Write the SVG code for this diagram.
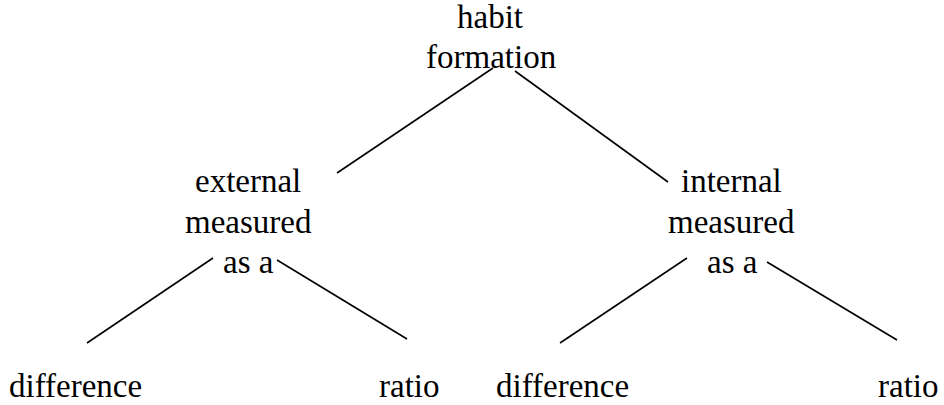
<svg xmlns="http://www.w3.org/2000/svg" width="944" height="405" viewBox="0 0 944 405">
<rect width="944" height="405" fill="#fff"/>
<g id="root"><text x="457" y="28" font-size="33" font-family="Liberation Serif">habit</text><text x="426" y="68" font-size="33" font-family="Liberation Serif">formation</text></g>
<g id="external"><text x="195" y="192" font-size="33" font-family="Liberation Serif">external</text><text x="185" y="233" font-size="33" font-family="Liberation Serif">measured</text><text x="223" y="273" font-size="33" font-family="Liberation Serif">as a</text></g>
<g id="internal"><text x="681" y="192" font-size="33" font-family="Liberation Serif">internal</text><text x="668" y="233" font-size="33" font-family="Liberation Serif">measured</text><text x="707" y="273" font-size="33" font-family="Liberation Serif">as a</text></g>
<g id="ext-difference"><text x="9" y="397" font-size="33" font-family="Liberation Serif">difference</text></g>
<g id="ext-ratio"><text x="379" y="397" font-size="33" font-family="Liberation Serif">ratio</text></g>
<g id="int-difference"><text x="496" y="397" font-size="33" font-family="Liberation Serif">difference</text></g>
<g id="int-ratio"><text x="878" y="397" font-size="33" font-family="Liberation Serif">ratio</text></g>
<g id="connectors" stroke="#000" stroke-width="1.6">
<line x1="493" y1="68" x2="337" y2="173"/>
<line x1="515" y1="71" x2="668" y2="182"/>
<line x1="213" y1="258" x2="87" y2="343"/>
<line x1="277" y1="260" x2="407" y2="339"/>
<line x1="687" y1="258" x2="560" y2="343"/>
<line x1="767" y1="262" x2="897" y2="340"/>
</g>
</svg>
